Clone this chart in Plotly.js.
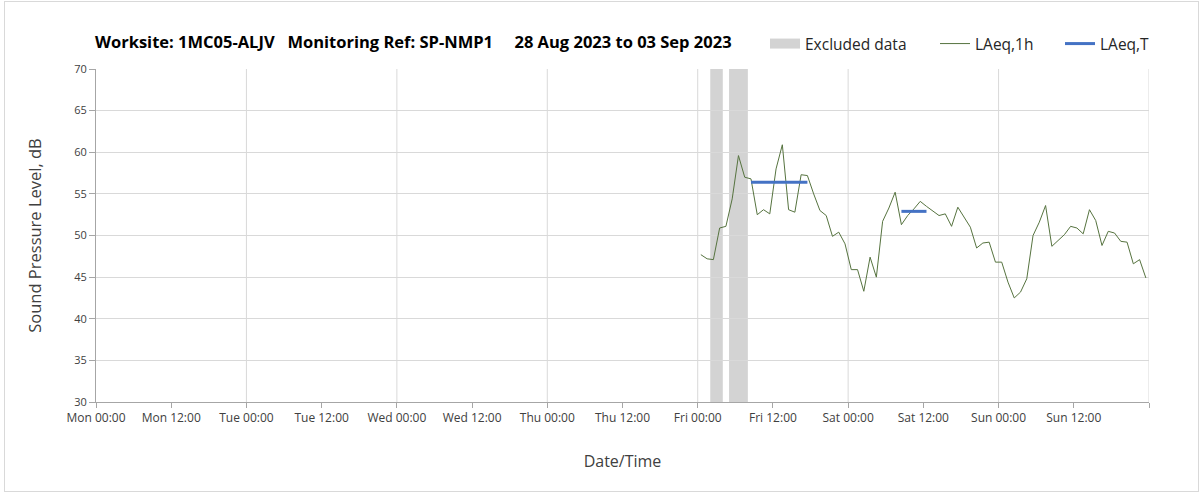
<!DOCTYPE html>
<html>
<head>
<meta charset="utf-8">
<script src="https://cdn.plot.ly/plotly-3.0.1.min.js"></script>
<style>
  html, body { margin: 0; padding: 0; background: #fff; }
  #wrap { position: relative; width: 1203px; height: 493px; }
  #chart { width: 1203px; height: 493px; }
  #frame { position: absolute; left: 4px; top: 1px; width: 1193px; height: 489px; border: 1px solid #d9d9d9; pointer-events: none; }
</style>
</head>
<body>
<div id="wrap"><div id="chart"></div><div id="frame"></div></div>
<script>
// ---- Data ----
const titleText = 'Worksite: 1MC05-ALJV\u00a0\u00a0\u00a0Monitoring Ref: SP-NMP1\u00a0\u00a0\u00a0\u00a0\u00a028 Aug 2023 to 03 Sep 2023';
const rangeStart = '2023-08-28 00:00';
const rangeEnd = '2023-09-04 00:00';
const xTickLabels = ['Mon 00:00','Mon 12:00','Tue 00:00','Tue 12:00','Wed 00:00','Wed 12:00','Thu 00:00','Thu 12:00','Fri 00:00','Fri 12:00','Sat 00:00','Sat 12:00','Sun 00:00','Sun 12:00',''];
const firstSample = '2023-09-01 00:30';   // hourly LAeq,1h samples, mid-hour
const laeq1h = [
  47.7,47.2,47.1,50.9,51.1,54.4,59.6,57.0,56.8,52.5,53.1,52.6,
  58.0,60.9,53.1,52.8,57.3,57.2,55.0,53.0,52.4,49.9,50.4,49.0,
  45.9,45.9,43.3,47.4,45.0,51.7,53.3,55.2,51.3,52.4,53.2,54.1,
  53.5,53.0,52.4,52.6,51.1,53.4,52.2,51.0,48.5,49.1,49.2,46.8,
  46.8,44.4,42.5,43.2,44.8,50.0,51.6,53.6,48.7,49.4,50.1,51.1,
  50.9,50.2,53.1,51.8,48.8,50.5,50.3,49.3,49.2,46.6,47.1,44.9
];
const laeqTStart = ['2023-09-01 08:30','2023-09-02 08:30'];
const laeqTEnd   = ['2023-09-01 17:30','2023-09-02 12:30'];
const laeqTValue = [56.4, 52.9];
const excludedStart = ['2023-09-01 02:00','2023-09-01 05:00'];
const excludedEnd   = ['2023-09-01 04:00','2023-09-01 08:00'];

// ---- helpers ----
const HOUR = 3600000;
function parseT(s){ const [d,t]=s.split(' '); const [Y,M,D]=d.split('-').map(Number); const [h,m]=t.split(':').map(Number); return Date.UTC(Y,M-1,D,h,m); }
function fmt(ms){ const d=new Date(ms); const p=n=>String(n).padStart(2,'0');
  return d.getUTCFullYear()+'-'+p(d.getUTCMonth()+1)+'-'+p(d.getUTCDate())+' '+p(d.getUTCHours())+':'+p(d.getUTCMinutes()); }

const t0 = parseT(firstSample);
const sampleTimes = laeq1h.map((_, i) => fmt(t0 + i*HOUR));
const tickVals = xTickLabels.map((_, i) => fmt(parseT(rangeStart) + i*12*HOUR));

const tx = [], ty = [];
laeqTValue.forEach((v, i) => { if (i) { tx.push(null); ty.push(null); } tx.push(laeqTStart[i], laeqTEnd[i]); ty.push(v, v); });

const FONT = '"Open Sans", Lato, sans-serif';
const shapes = [];
excludedStart.forEach((s, i) => shapes.push({
  type: 'rect', xref: 'x', yref: 'paper', x0: s, x1: excludedEnd[i], y0: 0, y1: 1,
  fillcolor: '#d3d3d3', line: {width: 0}, layer: 'below'
}));
for (let t = parseT(rangeStart) + 24*HOUR; t <= parseT(rangeEnd); t += 24*HOUR) {
  shapes.push({type: 'line', xref: 'x', yref: 'paper', x0: fmt(t), x1: fmt(t), y0: 0, y1: 1,
    line: {color: '#d9d9d9', width: 1}, layer: 'below'});
}

const traces = [
  {type: 'scatter', mode: 'lines', name: 'Excluded data', x: [null], y: [null],
   line: {color: '#d3d3d3', width: 10}, legend: 'legend', hoverinfo: 'skip'},
  {type: 'scatter', mode: 'lines', name: 'LAeq,1h', x: sampleTimes, y: laeq1h,
   line: {color: '#56733f', width: 1}, legend: 'legend2'},
  {type: 'scatter', mode: 'lines', name: 'LAeq,T', x: tx, y: ty,
   line: {color: '#4472c4', width: 3}, legend: 'legend3'}
];

const legBase = {orientation: 'h', xref: 'container', yref: 'container', yanchor: 'middle', xanchor: 'left',
  y: 1 - 44/493, font: {family: FONT, size: 15.5, color: '#262626'}, bgcolor: 'rgba(0,0,0,0)'};

const layout = {
  width: 1203, height: 493,
  margin: {l: 96, r: 54, t: 69, b: 91},
  paper_bgcolor: '#fff', plot_bgcolor: '#fff',
  font: {family: FONT, color: '#404040'},
  showlegend: true,
  title: {text: '<b>' + titleText + '</b>', xref: 'container', yref: 'container',
    x: 95/1203, xanchor: 'left', y: 1 - 42/493, yanchor: 'middle',
    font: {family: FONT, size: 16.5, color: '#000'}},
  xaxis: {
    type: 'date', range: [rangeStart, rangeEnd],
    tickmode: 'array', tickvals: tickVals, ticktext: xTickLabels,
    showgrid: false, zeroline: false,
    showline: true, linecolor: '#a6a6a6', linewidth: 1,
    ticks: 'outside', ticklen: 5, tickcolor: '#a6a6a6',
    tickfont: {family: FONT, size: 12, color: '#404040'},
    title: {text: 'Date/Time', font: {family: FONT, size: 16, color: '#404040'}, standoff: 30}
  },
  yaxis: {
    range: [30, 70], dtick: 5, tick0: 30,
    showgrid: true, gridcolor: '#d9d9d9', gridwidth: 1, zeroline: false,
    showline: true, linecolor: '#a6a6a6', linewidth: 1,
    ticks: 'outside', ticklen: 6, tickcolor: '#a6a6a6',
    tickfont: {family: FONT, size: 11, color: '#404040'},
    title: {text: 'Sound Pressure Level, dB', font: {family: FONT, size: 16.5, color: '#404040'}, standoff: 28}
  },
  shapes: shapes,
  legend: Object.assign({}, legBase, {x: 765/1203}),
  legend2: Object.assign({}, legBase, {x: 935/1203}),
  legend3: Object.assign({}, legBase, {x: 1060/1203})
};

Plotly.newPlot('chart', traces, layout, {displayModeBar: false, staticPlot: true});
</script>
</body>
</html>
